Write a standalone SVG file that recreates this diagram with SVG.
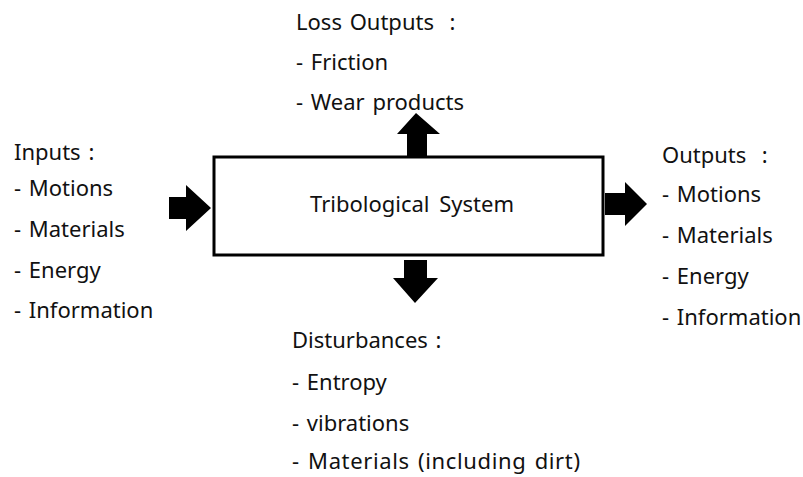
<svg xmlns="http://www.w3.org/2000/svg" width="803" height="477" viewBox="0 0 803 477">
<style>
text{font-family:"Noto Sans","Open Sans","DejaVu Sans",sans-serif;font-size:22px;fill:#111;word-spacing:2px}
.arr{fill:#000}
</style>
<rect width="803" height="477" fill="#fff"/>
<g id="system">
<rect x="214" y="157" width="389" height="98" fill="#fff" stroke="#000" stroke-width="3"/>
<text x="412" y="212" text-anchor="middle" style="word-spacing:4px">Tribological System</text>
</g>
<g id="inputs">
<text x="14" y="160">Inputs :</text>
<text x="14" y="196">- Motions</text>
<text x="14" y="237">- Materials</text>
<text x="14" y="278">- Energy</text>
<text x="14" y="318">- Information</text>
</g>
<g id="loss-outputs">
<text x="296" y="30" xml:space="preserve">Loss Outputs  :</text>
<text x="296" y="70">- Friction</text>
<text x="296" y="110">- Wear products</text>
</g>
<g id="outputs">
<text x="662" y="163" xml:space="preserve">Outputs  :</text>
<text x="662" y="202">- Motions</text>
<text x="662" y="243">- Materials</text>
<text x="662" y="284">- Energy</text>
<text x="662" y="325">- Information</text>
</g>
<g id="disturbances">
<text x="292" y="348">Disturbances :</text>
<text x="292" y="390">- Entropy</text>
<text x="292" y="431">- vibrations</text>
<text x="292" y="469" textLength="288" lengthAdjust="spacing">- Materials (including dirt)</text>
</g>
<g id="connectors">
<polygon class="arr" points="169,197 186,197 186,185 211,208 186,231 186,219 169,219"/>
<polygon class="arr" points="605,193 625,193 625,182 647,204 625,226 625,215 605,215"/>
<polygon class="arr" points="407,156 407,134 397,134 416,113 440,134 427,134 427,156"/>
<polygon class="arr" points="404,260 427,260 427,278 438,278 415,303 393,278 404,278"/>
</g>
</svg>
